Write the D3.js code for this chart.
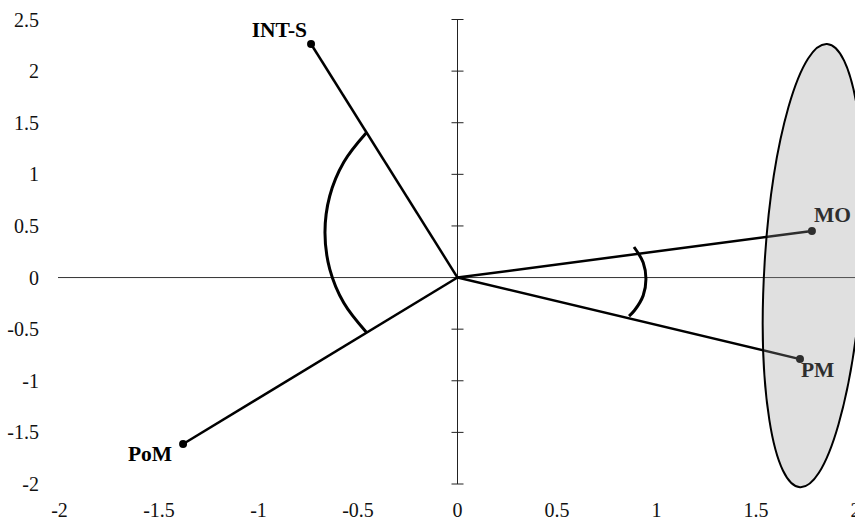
<!DOCTYPE html>
<html>
<head>
<meta charset="utf-8">
<script src="https://cdn.jsdelivr.net/npm/d3@7"></script>
<style>
  body { margin: 0; background: #fff; }
  svg text { font-family: "Liberation Serif", "Times New Roman", serif; }
</style>
</head>
<body>
<svg id="chart" width="855" height="520"></svg>
<script>
// tick values
const xTicks = [-2, -1.5, -1, -0.5, 0, 0.5, 1, 1.5, 2];
const yTicks = [-2, -1.5, -1, -0.5, 0, 0.5, 1, 1.5, 2, 2.5];

// vectors from the origin
const names = ["INT-S", "PoM", "MO", "PM"];
const xs = [-0.736, -1.379, 1.781, 1.721];
const ys = [2.263, -1.613, 0.451, -0.790];

// angle arcs (data units)
const bigArc = [[-0.458, -0.530], [-0.571, -0.247], [-0.642, 0.082], [-0.666, 0.436],
                [-0.642, 0.790], [-0.571, 1.119], [-0.458, 1.402]];
const smallArc = [[0.887, 0.296], [0.933, 0.146], [0.947, -0.015], [0.933, -0.175],
                  [0.890, -0.317], [0.862, -0.373]];

// cluster ellipse: centre, half widths (data units), tilt in degrees
const ellCentre = [1.789, 0.116];
const ellRadii = [0.246, 2.151];
const ellTilt = 3.5;

const svg = d3.select("#chart");
const x = d3.scaleLinear().domain([-2, 2]).range([59.5, 855.5]);
const y = d3.scaleLinear().domain([-2, 2.5]).range([484, 19.5]);

// horizontal axis (no ticks)
svg.append("line")
    .attr("x1", 58).attr("x2", 855)
    .attr("y1", y(0)).attr("y2", y(0))
    .attr("stroke", "#333").attr("stroke-width", 1);

// vertical axis with crossing ticks
svg.append("line")
    .attr("x1", x(0)).attr("x2", x(0))
    .attr("y1", y(2.5)).attr("y2", y(-2))
    .attr("stroke", "#222").attr("stroke-width", 1);
svg.append("g").selectAll("line")
  .data(yTicks)
  .enter().append("line")
    .attr("x1", x(0) - 6).attr("x2", x(0) + 6)
    .attr("y1", d => y(d)).attr("y2", d => y(d))
    .attr("stroke", "#222").attr("stroke-width", 1);

// tick labels
svg.append("g").selectAll("text")
  .data(yTicks)
  .enter().append("text")
    .attr("x", 39)
    .attr("y", d => y(d) + 7)
    .attr("text-anchor", "end")
    .attr("font-size", 20)
    .attr("fill", "#111")
    .text(d => String(d));
svg.append("g").selectAll("text")
  .data(xTicks)
  .enter().append("text")
    .attr("x", d => x(d))
    .attr("y", 517)
    .attr("text-anchor", "middle")
    .attr("font-size", 20)
    .attr("fill", "#111")
    .text(d => String(d));

// vectors
const pts = names.map((n, i) => ({name: n, x: xs[i], y: ys[i]}));
svg.append("g").selectAll("line")
  .data(pts)
  .enter().append("line")
    .attr("x1", x(0)).attr("y1", y(0))
    .attr("x2", d => x(d.x)).attr("y2", d => y(d.y))
    .attr("stroke", "#000").attr("stroke-width", 2.5);
svg.append("g").selectAll("circle")
  .data(pts)
  .enter().append("circle")
    .attr("cx", d => x(d.x)).attr("cy", d => y(d.y))
    .attr("r", 4).attr("fill", "#000");

// labels
const labelPos = {
  "INT-S": {dx: -4, dy: -7, anchor: "end"},
  "PoM": {dx: -11, dy: 17, anchor: "end"},
  "MO": {dx: 2, dy: -9, anchor: "start"},
  "PM": {dx: 1, dy: 18, anchor: "start"}
};
svg.append("g").selectAll("text")
  .data(pts)
  .enter().append("text")
    .attr("x", d => x(d.x) + labelPos[d.name].dx)
    .attr("y", d => y(d.y) + labelPos[d.name].dy)
    .attr("text-anchor", d => labelPos[d.name].anchor)
    .attr("font-size", 21.5)
    .attr("font-weight", "bold")
    .attr("fill", "#000")
    .text(d => d.name);

// angle arcs
const arcLine = d3.line()
    .x(d => x(d[0])).y(d => y(d[1]))
    .curve(d3.curveCatmullRom);
svg.append("path")
    .attr("d", arcLine(bigArc))
    .attr("fill", "none").attr("stroke", "#000").attr("stroke-width", 3);
svg.append("path")
    .attr("d", arcLine(smallArc))
    .attr("fill", "none").attr("stroke", "#000").attr("stroke-width", 3);

// translucent ellipse on top
svg.append("ellipse")
    .attr("cx", x(ellCentre[0])).attr("cy", y(ellCentre[1]))
    .attr("rx", x(ellRadii[0]) - x(0))
    .attr("ry", y(0) - y(ellRadii[1]))
    .attr("transform", "rotate(" + ellTilt + "," + x(ellCentre[0]) + "," + y(ellCentre[1]) + ")")
    .attr("fill", "#999").attr("fill-opacity", 0.3)
    .attr("stroke", "#000").attr("stroke-width", 2);
</script>
</body>
</html>
